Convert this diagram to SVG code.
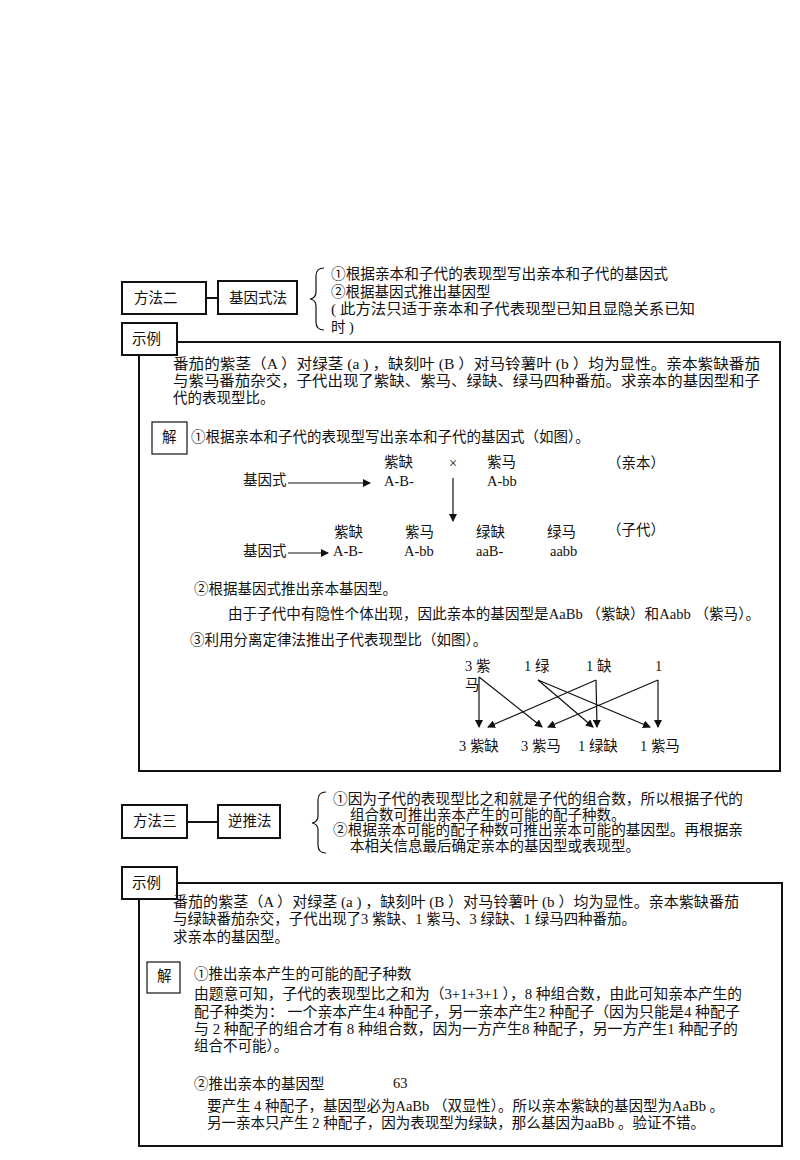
<svg xmlns="http://www.w3.org/2000/svg" width="800" height="1160" viewBox="0 0 800 1160">
<style>
text{font-family:"Liberation Serif","Noto Sans CJK SC",serif;font-size:14.5px;fill:#111}
.b{fill:none;stroke:#111;stroke-width:2}
.w{fill:#fff;stroke:#111;stroke-width:2}
.t{fill:none;stroke:#111;stroke-width:1.2}
.l{stroke:#111;stroke-width:1.2;fill:none}
</style>
<defs><marker id="a" markerWidth="8" markerHeight="8" refX="7" refY="4" orient="auto" markerUnits="userSpaceOnUse"><path d="M0,0L8,4L0,8z" fill="#111"/></marker></defs>
<rect width="800" height="1160" fill="#fff"/>
<g id="m2"><rect class="b" x="122" y="282" width="84" height="32"/><text x="134" y="303">方法二</text></g>
<g id="jys"><rect class="b" x="218" y="281" width="79" height="33"/><text x="229" y="303">基因式法</text></g>
<g id="brace1"><path class="l" d="M324,268 Q316,268 316,276 L316,292 Q316,298 310,299 Q316,300 316,306 L316,322 Q316,330 324,330"/>
<text x="331" y="279" textLength="337" lengthAdjust="spacingAndGlyphs">①根据亲本和子代的表现型写出亲本和子代的基因式</text>
<text x="331" y="297">②根据基因式推出基因型</text>
<text x="331" y="314" textLength="364" lengthAdjust="spacingAndGlyphs">( 此方法只适于亲本和子代表现型已知且显隐关系已知</text>
<text x="331" y="332">时 )</text></g>
<g id="ex1box"><rect class="b" x="139" y="342" width="641" height="429"/><rect class="w" x="122" y="323" width="55" height="32"/><text x="132" y="344">示例</text></g>
<g id="ex1text"><text x="173" y="369" textLength="587" lengthAdjust="spacingAndGlyphs">番茄的紫茎（A ）对绿茎 (a ) ，缺刻叶 (B ）对马铃薯叶 (b ）均为显性。亲本紫缺番茄</text>
<text x="173" y="386" textLength="587" lengthAdjust="spacingAndGlyphs">与紫马番茄杂交，子代出现了紫缺、紫马、绿缺、绿马四种番茄。求亲本的基因型和子</text>
<text x="173" y="403">代的表现型比。</text></g>
<g id="jie1"><rect class="t" x="152" y="422" width="35" height="32"/><text x="162" y="442">解</text><text x="191" y="442">①根据亲本和子代的表现型写出亲本和子代的基因式（如图）。</text></g>
<g id="cross">
<text x="243" y="485" font-size="12">基因式</text><text x="384" y="467">紫缺</text><text x="449" y="468" font-size="10">×</text><text x="487" y="467">紫马</text><text x="607" y="468" font-size="12">（亲本）</text>
<text x="384" y="486">A-B-</text><text x="487" y="486">A-bb</text>
<text x="334" y="537">紫缺</text><text x="405" y="537">紫马</text><text x="476" y="537">绿缺</text><text x="547" y="537">绿马</text><text x="607" y="535" font-size="12">（子代）</text>
<text x="243" y="556" font-size="12">基因式</text><text x="333" y="556">A-B-</text><text x="404" y="556">A-bb</text><text x="476" y="556">aaB-</text><text x="550" y="556">aabb</text></g>
<g id="steps1"><text x="194" y="594">②根据基因式推出亲本基因型。</text>
<text x="228" y="619" textLength="532" lengthAdjust="spacingAndGlyphs">由于子代中有隐性个体出现，因此亲本的基因型是AaBb （紫缺）和Aabb （紫马）。</text>
<text x="190" y="645">③利用分离定律法推出子代表现型比（如图）。</text></g>
<g id="ratio"><text x="465" y="671">3 紫</text><text x="465" y="690">马</text><text x="524" y="671">1 绿</text><text x="586" y="671">1 缺</text><text x="655" y="671">1</text>
<text x="459" y="751">3 紫缺</text><text x="521" y="751">3 紫马</text><text x="578" y="751">1 绿缺</text><text x="640" y="751">1 紫马</text></g>
<g id="connectors">
<line class="l" x1="288" y1="483" x2="370" y2="483" marker-end="url(#a)"/>
<line class="l" x1="453" y1="478" x2="453" y2="521" marker-end="url(#a)"/>
<line class="l" x1="288" y1="553" x2="328" y2="553" marker-end="url(#a)"/>
<line class="l" x1="479" y1="677" x2="479" y2="727" marker-end="url(#a)"/>
<line class="l" x1="479" y1="677" x2="542" y2="727" marker-end="url(#a)"/>
<line class="l" x1="538" y1="680" x2="593" y2="727" marker-end="url(#a)"/>
<line class="l" x1="538" y1="680" x2="650" y2="727" marker-end="url(#a)"/>
<line class="l" x1="596" y1="680" x2="597" y2="727" marker-end="url(#a)"/>
<line class="l" x1="596" y1="680" x2="488" y2="727" marker-end="url(#a)"/>
<line class="l" x1="658" y1="680" x2="658" y2="727" marker-end="url(#a)"/>
<line class="l" x1="658" y1="680" x2="548" y2="727" marker-end="url(#a)"/>
<line class="b" x1="206" y1="298" x2="218" y2="298"/>
<line class="b" x1="187" y1="822" x2="218" y2="822"/>
</g>
<g id="m3"><rect class="b" x="122" y="805" width="65" height="33"/><text x="133" y="826">方法三</text></g>
<g id="ntf"><rect class="b" x="218" y="805" width="62" height="33"/><text x="228" y="826">逆推法</text></g>
<g id="brace2"><path class="l" d="M326,792 Q318,792 318,800 L318,816 Q318,822 312,823 Q318,824 318,830 L318,845 Q318,853 326,853"/>
<text x="333" y="804" textLength="410" lengthAdjust="spacingAndGlyphs">①因为子代的表现型比之和就是子代的组合数，所以根据子代的</text>
<text x="350" y="820">组合数可推出亲本产生的可能的配子种数。</text>
<text x="333" y="835" textLength="410" lengthAdjust="spacingAndGlyphs">②根据亲本可能的配子种数可推出亲本可能的基因型。再根据亲</text>
<text x="350" y="851">本相关信息最后确定亲本的基因型或表现型。</text></g>
<g id="ex2box"><rect class="b" x="139" y="883" width="643" height="263"/><rect class="w" x="122" y="867" width="55" height="32"/><text x="132" y="888">示例</text></g>
<g id="ex2text"><text x="173" y="907" textLength="566" lengthAdjust="spacingAndGlyphs">番茄的紫茎（A ）对绿茎 (a ) ，缺刻叶 (B ）对马铃薯叶 (b ）均为显性。亲本紫缺番茄</text>
<text x="173" y="924" textLength="463" lengthAdjust="spacingAndGlyphs">与绿缺番茄杂交，子代出现了3 紫缺、1 紫马、3 绿缺、1 绿马四种番茄。</text>
<text x="173" y="942">求亲本的基因型。</text></g>
<g id="jie2"><rect class="t" x="147" y="962" width="33" height="31"/><text x="157" y="981">解</text>
<text x="194" y="979">①推出亲本产生的可能的配子种数</text>
<text x="194" y="999" textLength="548" lengthAdjust="spacingAndGlyphs">由题意可知，子代的表现型比之和为（3+1+3+1 ），8 种组合数，由此可知亲本产生的</text>
<text x="194" y="1017" textLength="546" lengthAdjust="spacingAndGlyphs">配子种类为： 一个亲本产生4 种配子，另一亲本产生2 种配子（因为只能是4 种配子</text>
<text x="194" y="1034" textLength="544" lengthAdjust="spacingAndGlyphs">与 2 种配子的组合才有 8 种组合数，因为一方产生8  种配子，另一方产生1 种配子的</text>
<text x="194" y="1051">组合不可能）。</text>
<text x="194" y="1089">②推出亲本的基因型</text><text x="393" y="1088" font-size="11">63</text>
<text x="207" y="1111" textLength="517" lengthAdjust="spacingAndGlyphs">要产生 4 种配子，基因型必为AaBb （双显性）。所以亲本紫缺的基因型为AaBb 。</text>
<text x="207" y="1128" textLength="498" lengthAdjust="spacingAndGlyphs">另一亲本只产生 2 种配子，因为表现型为绿缺，那么基因为aaBb 。验证不错。</text></g>
</svg>
